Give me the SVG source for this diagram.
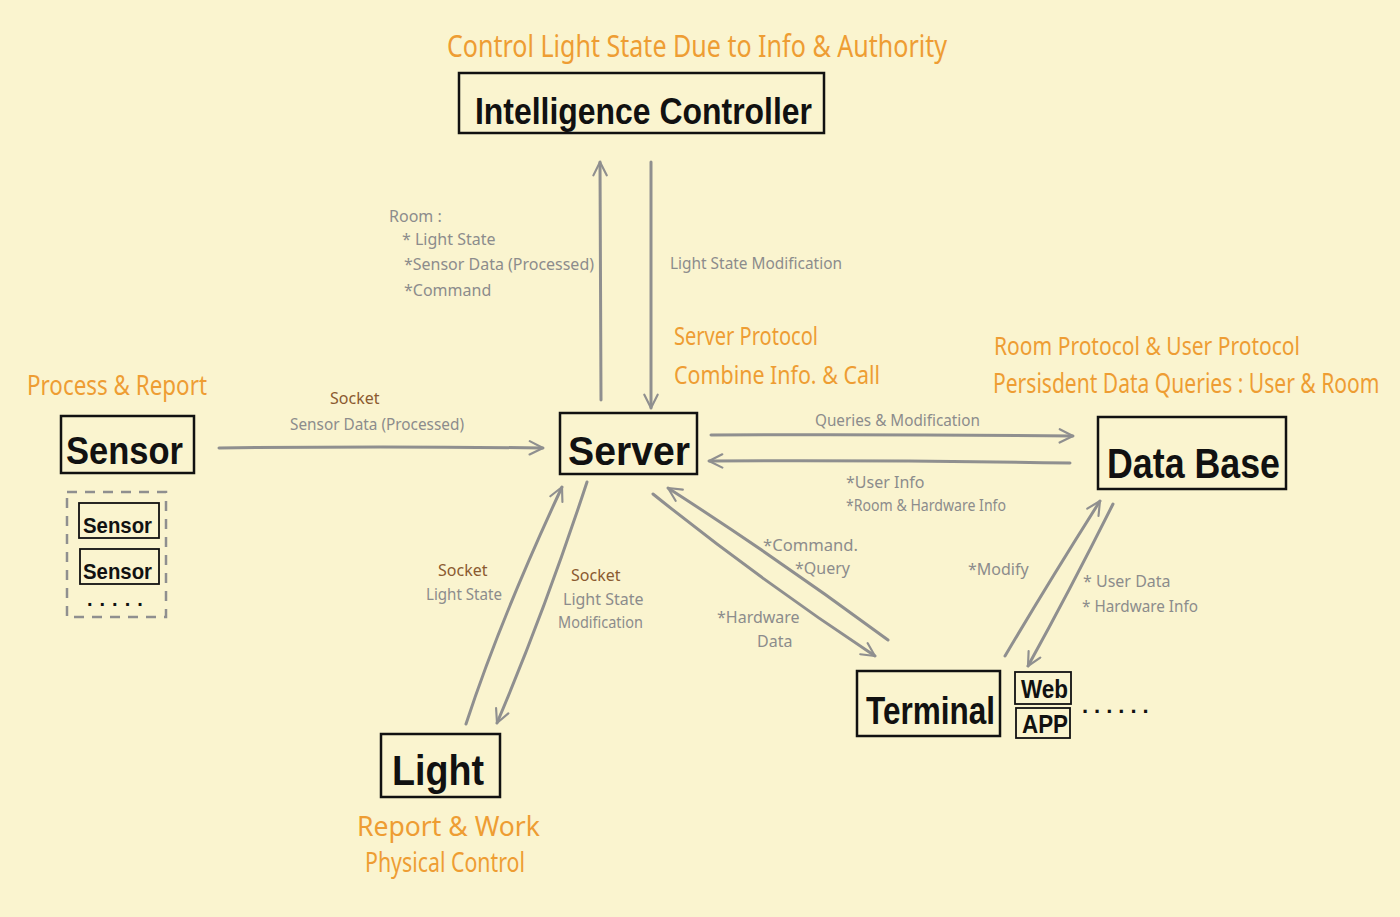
<svg xmlns="http://www.w3.org/2000/svg" width="1400" height="917" viewBox="0 0 1400 917">
<defs>
<marker id="arr" viewBox="0 0 12 12" refX="11" refY="6" markerWidth="16" markerHeight="16" markerUnits="userSpaceOnUse" orient="auto">
<path d="M1,1 L11,6 L1,11" fill="none" stroke="#8f8f8f" stroke-width="1.6" stroke-linecap="round" stroke-linejoin="round"/>
</marker>
<style>
.box{fill:none;stroke:#111;stroke-width:2.5}
.sbox{fill:none;stroke:#111;stroke-width:1.8}
.nt{font-family:"Liberation Sans","Noto Sans",sans-serif;fill:#111;font-weight:bold}
.or{font-family:"Noto Sans","Liberation Sans",sans-serif;fill:#EE9D33}
.gr{font-family:"Noto Sans","Liberation Sans",sans-serif;fill:#8c8c8c;font-size:16px}
.br{font-family:"Noto Sans","Liberation Sans",sans-serif;fill:#8a5a30;font-size:16px}
.ln{fill:none;stroke:#8f8f8f;stroke-width:3;stroke-linecap:round;marker-end:url(#arr)}
</style>
</defs>
<rect width="1400" height="917" fill="#FAF4CF"/>

<g id="connectors">
<path class="ln" d="M601,400 L600,162"/>
<path class="ln" d="M651,162 L651,408"/>
<path class="ln" d="M219,448 Q380,446 543,448"/>
<path class="ln" d="M711,435 Q890,434 1073,436"/>
<path class="ln" d="M1070,463 Q890,460 709,461"/>
<path class="ln" d="M466,724 Q500,620 562,487"/>
<path class="ln" d="M587,482 Q545,610 497,723"/>
<path class="ln" d="M888,640 Q780,560 668,488"/>
<path class="ln" d="M653,494 Q760,580 875,656"/>
<path class="ln" d="M1005,656 Q1050,580 1100,501"/>
<path class="ln" d="M1113,504 Q1070,590 1028,666"/>
</g>

<g id="intelligence-controller">
<rect class="box" x="459" y="73" width="365" height="60"/>
<text class="nt" x="475" y="124" font-size="36" textLength="337" lengthAdjust="spacingAndGlyphs">Intelligence Controller</text>
<text class="or" x="447" y="57" font-size="30" textLength="500" lengthAdjust="spacingAndGlyphs">Control Light State Due to Info &amp; Authority</text>
</g>

<g id="server">
<rect class="box" x="560" y="413" width="137" height="61"/>
<text class="nt" x="568" y="465" font-size="40" textLength="122" lengthAdjust="spacingAndGlyphs">Server</text>
<text class="or" x="674" y="345" font-size="26" textLength="144" lengthAdjust="spacingAndGlyphs">Server Protocol</text>
<text class="or" x="674" y="384" font-size="26" textLength="206" lengthAdjust="spacingAndGlyphs">Combine Info. &amp; Call</text>
</g>

<g id="sensor">
<rect class="box" x="61" y="416" width="133" height="57"/>
<text class="nt" x="66" y="464" font-size="38" textLength="117" lengthAdjust="spacingAndGlyphs">Sensor</text>
<text class="or" x="27" y="395" font-size="28" textLength="180" lengthAdjust="spacingAndGlyphs">Process &amp; Report</text>
<rect x="67" y="492" width="99" height="125" fill="none" stroke="#8f8f8f" stroke-width="2.5" stroke-dasharray="10,8"/>
<rect class="sbox" x="79" y="503" width="80" height="35"/>
<text class="nt" x="83" y="533" font-size="22" textLength="69" lengthAdjust="spacingAndGlyphs">Sensor</text>
<rect class="sbox" x="80" y="549" width="79" height="35"/>
<text class="nt" x="83" y="579" font-size="22" textLength="69" lengthAdjust="spacingAndGlyphs">Sensor</text>
<text class="nt" x="87" y="606" font-size="20" letter-spacing="7">.....</text>
</g>

<g id="data-base">
<rect class="box" x="1098" y="417" width="188" height="72"/>
<text class="nt" x="1107" y="478" font-size="42" textLength="173" lengthAdjust="spacingAndGlyphs">Data Base</text>
<text class="or" x="994" y="355" font-size="26" textLength="306" lengthAdjust="spacingAndGlyphs">Room Protocol &amp; User Protocol</text>
<text class="or" font-size="27" transform="translate(993,393) scale(0.78,1)">Persisdent Data Queries : User &amp; Room</text>
</g>

<g id="light">
<rect class="box" x="381" y="734" width="119" height="63"/>
<text class="nt" x="392" y="785" font-size="42" textLength="92" lengthAdjust="spacingAndGlyphs">Light</text>
<text class="or" x="357" y="836" font-size="28" textLength="183" lengthAdjust="spacingAndGlyphs">Report &amp; Work</text>
<text class="or" x="365" y="872" font-size="28" textLength="160" lengthAdjust="spacingAndGlyphs">Physical Control</text>
</g>

<g id="terminal">
<rect class="box" x="857" y="671" width="143" height="65"/>
<text class="nt" x="866" y="724" font-size="38" textLength="129" lengthAdjust="spacingAndGlyphs">Terminal</text>
</g>

<g id="web">
<rect class="sbox" x="1015" y="672" width="56" height="32"/>
<text class="nt" x="1021" y="698" font-size="25" textLength="47" lengthAdjust="spacingAndGlyphs">Web</text>
</g>

<g id="app">
<rect class="sbox" x="1016" y="708" width="54" height="30"/>
<text class="nt" x="1022" y="733" font-size="25" textLength="46" lengthAdjust="spacingAndGlyphs">APP</text>
<text class="nt" x="1082" y="713" font-size="22" letter-spacing="6">......</text>
</g>

<g id="labels">
<text class="gr" x="389" y="222">Room :</text>
<text class="gr" x="402" y="245">* Light State</text>
<text class="gr" x="404" y="270" textLength="190" lengthAdjust="spacingAndGlyphs">*Sensor Data (Processed)</text>
<text class="gr" x="404" y="296">*Command</text>
<text class="gr" x="670" y="269" textLength="172" lengthAdjust="spacingAndGlyphs">Light State Modification</text>
<text class="br" x="330" y="404">Socket</text>
<text class="gr" x="290" y="430" textLength="174" lengthAdjust="spacingAndGlyphs">Sensor Data (Processed)</text>
<text class="gr" x="815" y="426" textLength="165" lengthAdjust="spacingAndGlyphs">Queries &amp; Modification</text>
<text class="gr" x="846" y="488">*User Info</text>
<text class="gr" x="846" y="511" textLength="160" lengthAdjust="spacingAndGlyphs">*Room &amp; Hardware Info</text>
<text class="gr" x="763" y="551" textLength="95" lengthAdjust="spacingAndGlyphs">*Command.</text>
<text class="gr" x="795" y="574">*Query</text>
<text class="gr" x="717" y="623">*Hardware</text>
<text class="gr" x="757" y="647">Data</text>
<text class="gr" x="968" y="575">*Modify</text>
<text class="gr" x="1083" y="587">* User Data</text>
<text class="gr" x="1082" y="612" textLength="116" lengthAdjust="spacingAndGlyphs">* Hardware Info</text>
<text class="br" x="438" y="576">Socket</text>
<text class="gr" x="426" y="600" textLength="76" lengthAdjust="spacingAndGlyphs">Light State</text>
<text class="br" x="571" y="581">Socket</text>
<text class="gr" x="563" y="605">Light State</text>
<text class="gr" x="558" y="628" textLength="85" lengthAdjust="spacingAndGlyphs">Modification</text>
</g>
</svg>
